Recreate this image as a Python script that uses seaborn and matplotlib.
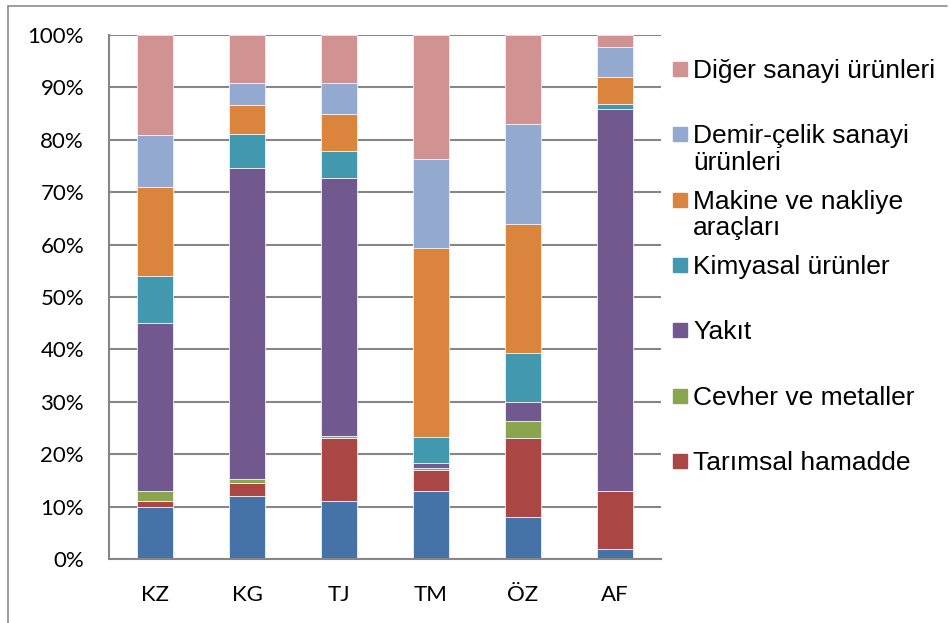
import matplotlib
matplotlib.use("Agg")
import matplotlib.pyplot as plt
from matplotlib.patches import Rectangle
from matplotlib.lines import Line2D
import seaborn as sns
import numpy as np

# ---- data (percent shares, bottom to top) ----
countries = ["KZ", "KG", "TJ", "TM", "ÖZ", "AF"]
gida = [10.0, 12.1, 11.0, 12.9, 8.0, 2.0]
tarimsal = [1.0, 2.4, 12.0, 4.1, 15.0, 10.9]
cevher = [2.0, 0.7, 0.4, 0.4, 3.4, 0.0]
yakit = [32.0, 59.5, 49.4, 0.9, 3.6, 73.0]
kimyasal = [9.0, 6.5, 5.0, 5.0, 9.4, 1.0]
makine = [17.0, 5.5, 7.1, 36.1, 24.5, 5.0]
demir = [10.0, 4.1, 6.0, 16.9, 19.1, 5.9]
diger = [19.0, 9.2, 9.1, 23.7, 17.0, 2.2]

series_names = ["Gıda", "Tarımsal hamadde", "Cevher ve metaller", "Yakıt",
                "Kimyasal ürünler", "Makine ve nakliye\naraçları",
                "Demir-çelik sanayi\nürünleri", "Diğer sanayi ürünleri"]
series_values = [gida, tarimsal, cevher, yakit, kimyasal, makine, demir, diger]
series_colors = ["#4572A7", "#AA4643", "#89A54E", "#71588F",
                 "#4198AF", "#DB843D", "#93A9CF", "#D19392"]
legend_order = [7, 6, 5, 4, 3, 2, 1]  # top to bottom in legend

yticks = list(range(0, 101, 10))
ytick_labels = [f"{v}%" for v in yticks]

W, H = 951, 623
sns.set_style("white")
plt.rcParams["font.family"] = ["Lato", "DejaVu Sans"]

fig = plt.figure(figsize=(W / 100, H / 100), dpi=100)
ax = fig.add_axes([109 / W, 1 - 559 / H, (661 - 109) / W, (559 - 35) / H])

grid_col = "#868686"
bottom = np.zeros(len(countries))
for name, vals, col in zip(series_names, series_values, series_colors):
    sns.barplot(x=countries, y=vals, bottom=bottom, color=col, width=0.4,
                saturation=1, edgecolor="#f2f2f2", linewidth=0.6, ax=ax)
    bottom = bottom + np.array(vals)

ax.set_xlim(-0.5, 5.5)
ax.set_ylim(0, 100)
ax.set_yticks(yticks)
ax.set_yticklabels(ytick_labels)
ax.yaxis.grid(True, color=grid_col, lw=1.5)
ax.set_axisbelow(True)
ax.set_xlabel("")
ax.set_ylabel("")

ax.set_xticks(np.arange(-0.5, 6, 1), minor=True)
ax.tick_params(axis="x", which="major", length=0, pad=19, labelsize=16, labelcolor="black")
ax.tick_params(axis="x", which="minor", length=5.5, width=1.4, color=grid_col, direction="out")
ax.tick_params(axis="y", which="major", length=6, width=1.4, color=grid_col,
               direction="out", pad=12, labelsize=16, labelcolor="black")

for s in ["top", "right"]:
    ax.spines[s].set_visible(False)
for s in ["left", "bottom"]:
    ax.spines[s].set_color(grid_col)
    ax.spines[s].set_linewidth(1.5)

# ---- legend (manual, right side) ----
y0, dy, line_h = 68.8, 65.4, 26.5
for k, idx in enumerate(legend_order):
    yc = y0 + dy * k
    fig.patches.append(Rectangle((673 / W, 1 - (yc + 7) / H), 14 / W, 14 / H,
                                 transform=fig.transFigure, color=series_colors[idx]))
    for j, line in enumerate(series_names[idx].split("\n")):
        fig.text(693 / W, 1 - (yc + 9 + line_h * j) / H, line, ha="left", va="baseline",
                 fontsize=19, family=["Liberation Sans", "DejaVu Sans"], color="black")

# ---- outer frame (top and left edge) ----
fig.add_artist(Line2D([7.5 / W, 947 / W], [1 - 6 / H, 1 - 6 / H], transform=fig.transFigure,
                      color="#8c8c8c", lw=1.2))
fig.add_artist(Line2D([7.5 / W, 7.5 / W], [1 - 6 / H, 0], transform=fig.transFigure,
                      color="#8c8c8c", lw=1.2))

fig.savefig("out.png", dpi=100)
